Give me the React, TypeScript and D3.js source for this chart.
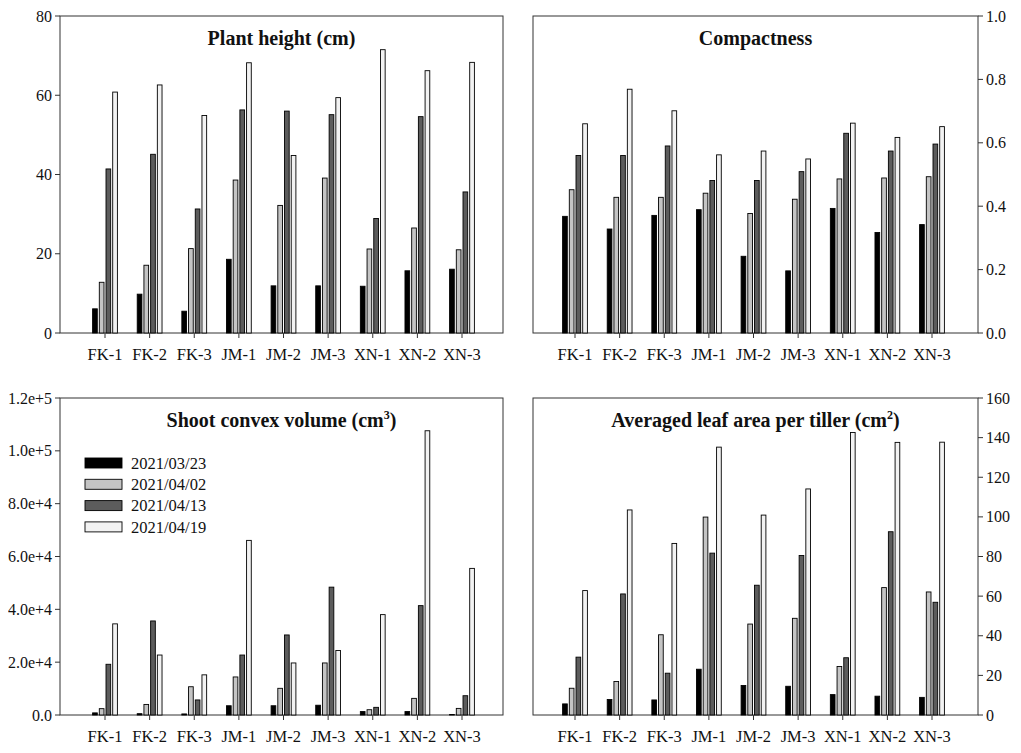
import React from "react";
import * as d3 from "d3";

const categories = ["FK-1", "FK-2", "FK-3", "JM-1", "JM-2", "JM-3", "XN-1", "XN-2", "XN-3"];
const dates = ["2021/03/23", "2021/04/02", "2021/04/13", "2021/04/19"];
const fills = ["#000000", "#c4c4c4", "#5c5c5c", "#f2f2f2"];

// values per date, in category order
const plantHeight = [
  [6.1, 9.8, 5.5, 18.6, 11.9, 11.9, 11.8, 15.7, 16.1],
  [12.8, 17.1, 21.3, 38.6, 32.2, 39.1, 21.2, 26.5, 21.0],
  [41.4, 45.1, 31.3, 56.3, 56.0, 55.1, 28.9, 54.6, 35.6],
  [60.8, 62.6, 54.9, 68.2, 44.8, 59.4, 71.5, 66.2, 68.3],
];
const compactness = [
  [0.368, 0.328, 0.371, 0.389, 0.242, 0.196, 0.393, 0.317, 0.342],
  [0.452, 0.428, 0.428, 0.441, 0.377, 0.422, 0.486, 0.489, 0.493],
  [0.56, 0.56, 0.59, 0.481, 0.481, 0.509, 0.63, 0.574, 0.596],
  [0.66, 0.769, 0.701, 0.562, 0.574, 0.549, 0.662, 0.617, 0.651],
];
const convexVolume = [
  [800, 500, 400, 3500, 3500, 3700, 1300, 1300, 200],
  [2400, 4000, 10700, 14400, 10100, 19700, 2000, 6300, 2500],
  [19200, 35600, 5700, 22700, 30300, 48400, 2900, 41400, 7300],
  [34500, 22700, 15200, 66100, 19700, 24400, 38000, 107600, 55500],
];
const leafArea = [
  [5.6, 7.8, 7.6, 23.1, 14.9, 14.5, 10.3, 9.5, 8.9],
  [13.5, 16.9, 40.5, 99.9, 45.9, 48.8, 24.5, 64.3, 62.1],
  [29.2, 61.1, 21.1, 81.7, 65.5, 80.5, 28.9, 92.5, 56.9],
  [62.8, 103.5, 86.6, 135.2, 100.9, 114.1, 142.6, 137.6, 137.7],
];

const FONT = "Liberation Serif";

interface PanelProps {
  x0: number;
  y0: number;
  w: number;
  h: number;
  data: number[][];
  yMax: number;
  ticks: number[];
  fmt: (v: number) => string;
  side: "left" | "right";
  title: string;
  sup?: string;
  padL: number;
  padR: number;
  legend?: boolean;
}

const Panel: React.FC<PanelProps> = ({
  x0, y0, w, h, data, yMax, ticks, fmt, side, title, sup, padL, padR, legend,
}) => {
  const x = d3.scalePoint<string>().domain(categories).range([x0 + padL, x0 + w - padR]);
  const sub = d3.scaleBand<number>().domain([0, 1, 2, 3]).range([-12.4, 12.4]).paddingInner(0.3);
  const y = d3.scaleLinear().domain([0, yMax]).range([y0 + h, y0]);
  const axisX = side === "left" ? x0 : x0 + w;
  const dir = side === "left" ? -1 : 1;
  const txt = { fontFamily: FONT };

  return (
    <g>
      <rect x={x0} y={y0} width={w} height={h} fill="none" stroke="#333" strokeWidth={1} />
      {data.map((series, si) =>
        series.map((v, ci) => (
          <rect
            key={`${si}-${ci}`}
            x={(x(categories[ci]) as number) + (sub(si) as number)}
            y={y(v)}
            width={sub.bandwidth()}
            height={y(0) - y(v)}
            fill={fills[si]}
            stroke="#000"
            strokeWidth={0.9}
          />
        ))
      )}
      {ticks.map((t) => (
        <g key={t}>
          <line x1={axisX} x2={axisX + dir * 5} y1={y(t)} y2={y(t)} stroke="#333" />
          <text
            x={axisX + dir * 8}
            y={y(t)}
            dy="0.35em"
            fontSize={16}
            textAnchor={side === "left" ? "end" : "start"}
            fill="#111"
            style={txt}
          >
            {fmt(t)}
          </text>
        </g>
      ))}
      {categories.map((c) => (
        <g key={c}>
          <line x1={x(c)} x2={x(c)} y1={y0 + h} y2={y0 + h + 5} stroke="#333" />
          <text x={x(c)} y={y0 + h + 27} fontSize={16.5} textAnchor="middle" fill="#111" style={txt}>
            {c}
          </text>
        </g>
      ))}
      <text
        x={x0 + w / 2}
        y={y0 + 29}
        fontSize={20}
        fontWeight="bold"
        textAnchor="middle"
        fill="#111"
        style={txt}
      >
        {title}
        {sup && (
          <>
            <tspan fontSize={12} dy={-8}>{sup}</tspan>
            <tspan dy={8}>)</tspan>
          </>
        )}
      </text>
      {legend &&
        dates.map((d, i) => (
          <g key={d} transform={`translate(${x0 + 25},${y0 + 65 + i * 21.3})`}>
            <rect x={0} y={-5} width={37} height={10} fill={fills[i]} stroke="#000" strokeWidth={0.9} />
            <text x={46} y={0} dy="0.35em" fontSize={16.5} fill="#111" style={txt}>
              {d}
            </text>
          </g>
        ))}
    </g>
  );
};

const sciFmt = (v: number) => (v === 0 ? "0.0" : d3.format(".1e")(v));

export default function App() {
  return (
    <svg width={1021} height={753} style={{ display: "block", margin: -8, fontFamily: FONT }}>
      <rect width={1021} height={753} fill="#fff" />
      <Panel
        x0={60} y0={16} w={443} h={317}
        data={plantHeight} yMax={80} ticks={d3.range(0, 81, 20)} fmt={d3.format("d")}
        side="left" title="Plant height (cm)" padL={45} padR={41}
      />
      <Panel
        x0={533} y0={16} w={445} h={317}
        data={compactness} yMax={1} ticks={d3.range(0, 1.01, 0.2)} fmt={d3.format(".1f")}
        side="right" title="Compactness" padL={42} padR={46}
      />
      <Panel
        x0={60} y0={398} w={443} h={317}
        data={convexVolume} yMax={120000} ticks={d3.range(0, 120001, 20000)} fmt={sciFmt}
        side="left" title="Shoot convex volume (cm" sup="3" padL={45} padR={41} legend
      />
      <Panel
        x0={533} y0={398} w={445} h={317}
        data={leafArea} yMax={160} ticks={d3.range(0, 161, 20)} fmt={d3.format("d")}
        side="right" title="Averaged leaf area per tiller (cm" sup="2" padL={42} padR={46}
      />
    </svg>
  );
}
